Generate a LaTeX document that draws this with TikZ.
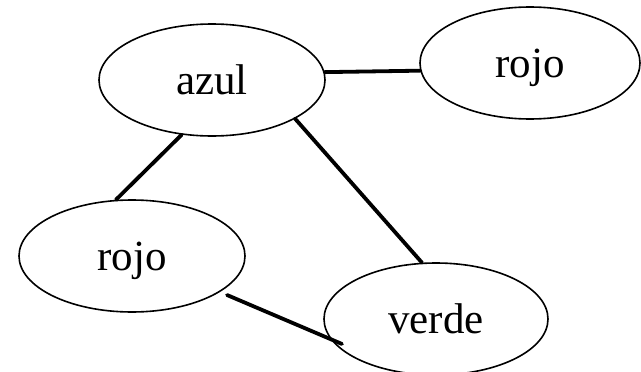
\documentclass[tikz,border=0pt]{standalone}
\usepackage{fontspec}
\setmainfont{Liberation Serif}
\usetikzlibrary{shapes.geometric,calc}
\begin{document}
\begin{tikzpicture}[x=1pt,y=-1pt,
  colornode/.style={ellipse,draw,line width=1.6pt,inner sep=0pt,
    minimum width=226pt,minimum height=112pt,
    font=\fontsize{43}{50}\selectfont,text height=29pt,text depth=0pt},
  link/.style={line width=3.8pt,line cap=round}]
\useasboundingbox (0,0) rectangle (641,372);
\fill[white] (0,0) rectangle (641,372);
% the four coloured regions
\node[colornode] (azul)  at (212,80)  {azul};
\node[colornode,minimum width=220pt] (rojoA) at (530,63) {rojo};
\node[colornode] (rojoB) at (132,256) {rojo};
\node[colornode,minimum width=224pt] (verde) at (436,319) {verde};
% adjacency edges
\draw[link] (azul.4.6) -- (rojoA.184.7);
\draw[link] (azul.241.4) -- (rojoB.106.9);
\draw[link] (azul.-25.1) -- (verde.104.3);
\draw[link] ($(rojoB.center)+(95,39)$) -- ($(verde.center)+(-94,25)$);
\end{tikzpicture}
\end{document}
